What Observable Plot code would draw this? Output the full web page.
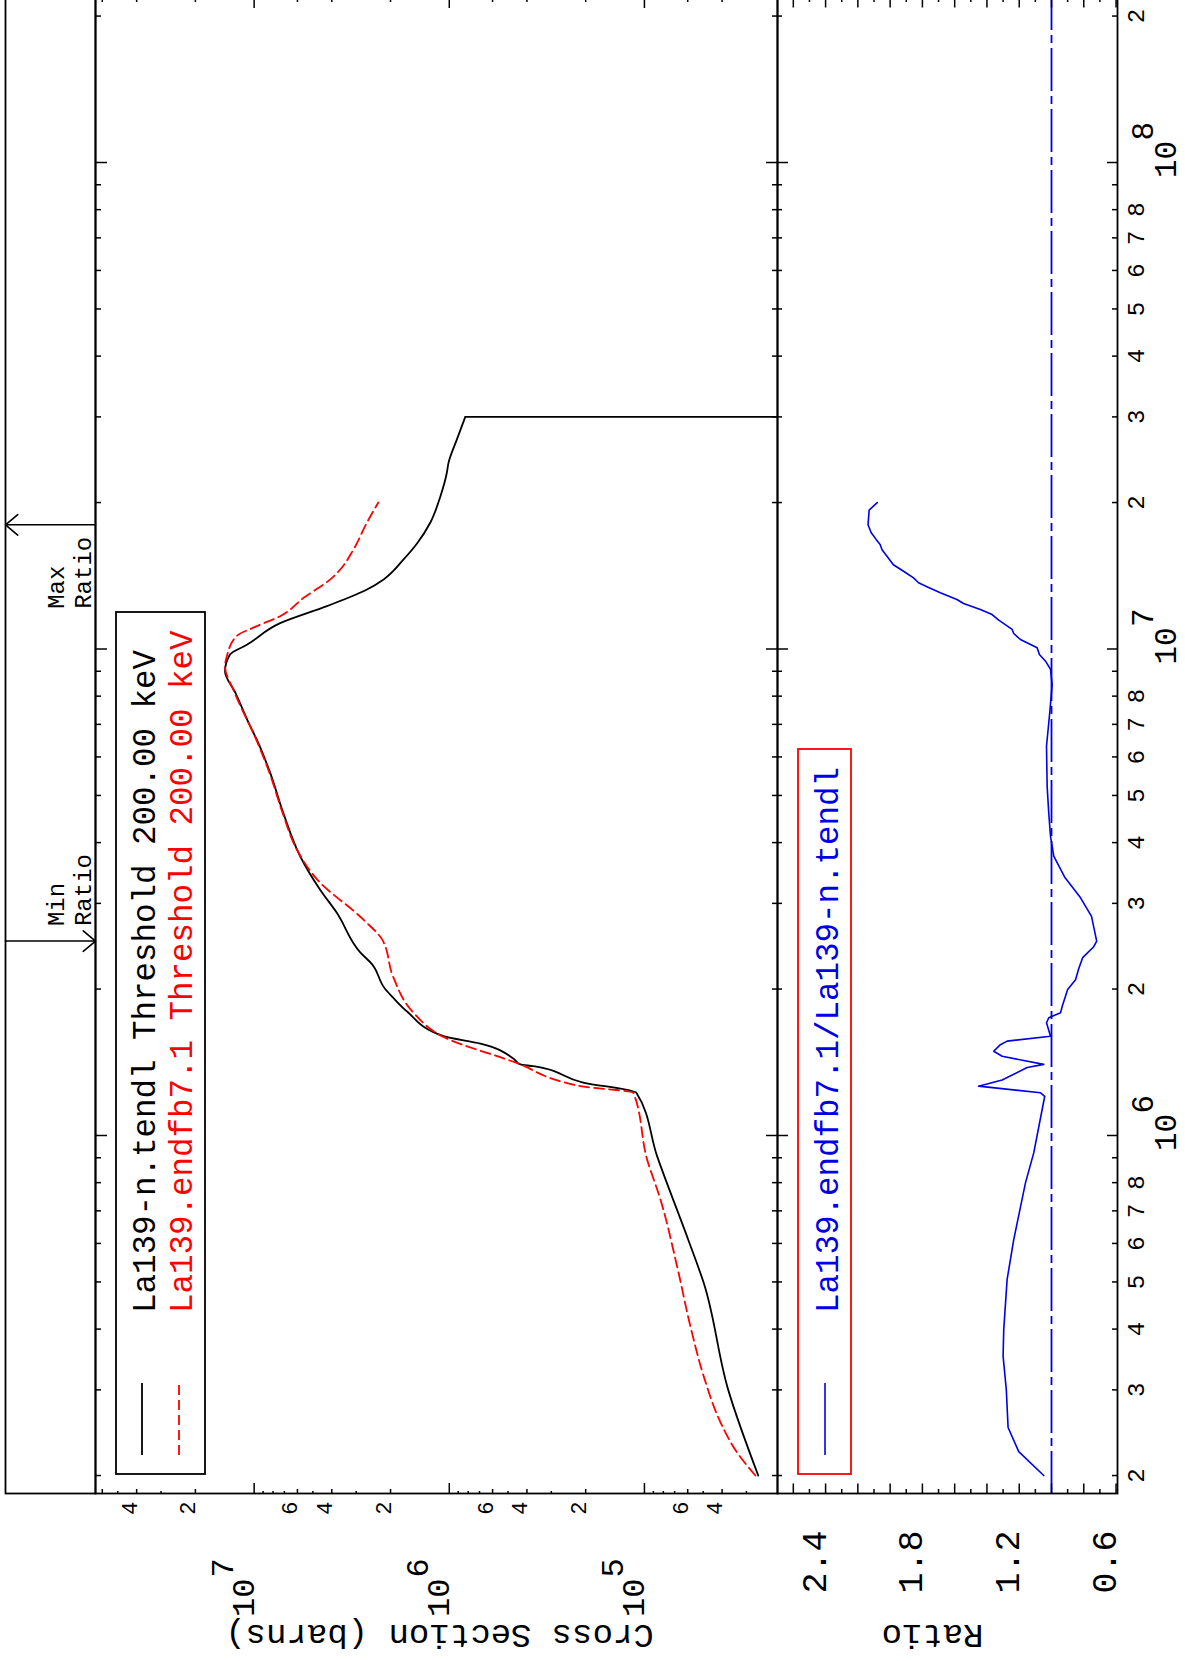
<!DOCTYPE html>
<html>
<head>
<meta charset="utf-8">
<script src="https://cdn.jsdelivr.net/npm/d3@7"></script>
<script src="https://cdn.jsdelivr.net/npm/@observablehq/plot@0.6"></script>
<style>
html, body { margin: 0; padding: 0; background: #fff; overflow: hidden; }
#page { position: relative; width: 1185px; height: 1661px; overflow: hidden; background: #fff; }
#land { position: absolute; left: 0; top: 0; width: 1670px; height: 1185px;
        transform-origin: 0 0; transform: translate(0px, 1661px) rotate(-90deg); }
#land svg { position: absolute; left: 0; overflow: visible !important; max-width: none !important; background: transparent !important; }
</style>
</head>
<body>
<div id="page"><div id="land"></div></div>
<script>
// ---------------- data ----------------
// La139-n.tendl  (neutron energy in eV, cross section in barns)
const tendlE = [2.0e5,3.0e5,4.98e5,6.07e5,9.07e5,1.224e6,1.285e6,1.388e6,1.40e6,1.44e6,
  1.545e6,1.60e6,1.80e6,1.92e6,2.0e6,2.25e6,2.38e6,2.87e6,3.20e6,3.75e6,
  4.61e6,5.57e6,6.51e6,6.94e6,8.14e6,9.0e6,9.74e6,1.02e7,1.13e7,1.225e7,
  1.325e7,1.39e7,1.53e7,1.65e7,1.82e7,2.06e7,2.30e7,2.41e7,2.70e7,3.0e7];
const tendlXS = [2.61e4,3.72e4,4.97e4,5.93e4,8.61e4,1.10e5,2.06e5,3.71e5,4.32e5,4.70e5,
  6.93e5,1.07e6,1.65e6,1.94e6,2.13e6,2.49e6,2.86e6,3.77e6,4.59e6,5.81e6,
  7.10e6,8.28e6,9.69e6,1.048e7,1.25e7,1.41e7,1.33e7,1.09e7,7.36e6,4.24e6,
  2.64e6,2.17e6,1.71e6,1.46e6,1.25e6,1.11e6,1.03e6,1.01e6,9.13e5,8.28e5];

// La139.endfb7.1
const endfE = [2.0e5,2.23e5,2.57e5,3.2e5,4.05e5,5.38e5,7.39e5,8.93e5,1.224e6,1.263e6,
  1.293e6,1.40e6,1.60e6,1.79e6,2.12e6,2.53e6,2.78e6,3.36e6,3.87e6,4.61e6,
  5.57e6,6.51e6,8.14e6,9.22e6,9.66e6,1.063e7,1.114e7,1.168e7,1.274e7,1.39e7,
  1.457e7,1.60e7,1.82e7,2.0e7];
const endfXS = [2.70e4,3.35e4,4.07e4,4.97e4,5.81e4,6.80e4,8.28e4,9.69e4,1.14e5,2.13e5,
  2.70e5,4.32e5,1.09e6,1.53e6,1.94e6,2.21e6,2.76e6,4.76e6,6.04e6,7.15e6,
  8.35e6,9.75e6,1.26e7,1.41e7,1.38e7,1.23e7,9.69e6,7.36e6,5.58e6,4.07e6,
  3.62e6,3.10e6,2.64e6,2.31e6];

// ratio La139.endfb7.1 / La139-n.tendl
const ratioE = [2.0e5,2.24e5,2.51e5,3.0e5,3.52e5,3.99e5,5.06e5,6.11e5,8.0e5,9.21e5,
  1.204e6,1.224e6,1.263e6,1.30e6,1.38e6,1.40e6,1.455e6,1.49e6,1.537e6,1.563e6,
  1.60e6,1.705e6,1.746e6,1.787e6,1.85e6,1.995e6,2.09e6,2.20e6,2.32e6,2.44e6,
  2.51e6,2.82e6,3.08e6,3.40e6,3.75e6,4.12e6,4.60e6,5.22e6,6.31e6,7.39e6,
  8.45e6,9.08e6,9.44e6,9.74e6,1.006e7,1.046e7,1.076e7,1.097e7,1.146e7,1.177e7,
  1.205e7,1.24e7,1.264e7,1.305e7,1.343e7,1.368e7,1.40e7,1.445e7,1.49e7,1.60e7,
  1.64e7,1.68e7,1.736e7,1.80e7,1.93e7,2.0e7];
const ratioVal = [1.048,1.203,1.269,1.28,1.30,1.296,1.275,1.234,1.161,1.11,
  1.042,1.068,1.452,1.306,1.151,1.048,1.306,1.358,1.317,1.275,
  1.006,1.031,1.017,0.944,0.932,0.90,0.851,0.832,0.807,0.74,
  0.72,0.752,0.82,0.919,0.986,1.006,1.017,1.027,1.031,1.011,
  0.996,1.006,1.037,1.075,1.089,1.193,1.234,1.244,1.327,1.368,
  1.441,1.545,1.586,1.689,1.772,1.824,1.855,1.917,1.98,2.05,
  2.062,2.087,2.118,2.137,2.13,2.08];

// ---------------- axes: domains, ticks, labels ----------------
const energyDomain = [1.837e5, 2.194e8];
const xsDomain = [2.08e4, 6.5e7];
const ratioDomain = [0.591, 2.698];

const energyMajorTicks = [1e6, 1e7, 1e8];
const energyMinorTicks = [2e5,3e5,4e5,5e5,6e5,7e5,8e5,9e5,
  2e6,3e6,4e6,5e6,6e6,7e6,8e6,9e6, 2e7,3e7,4e7,5e7,6e7,7e7,8e7,9e7, 2e8];
const energyMinorLabels = ["2","3","4","5","6","7","8"];
const energyMinorLabelDecades = [1e5, 1e6, 1e7];
const energyExtraLabels = [{v: 2e8, t: "2"}];
const energyMajorLabels = [{v: 1e6, exp: "6"}, {v: 1e7, exp: "7"}, {v: 1e8, exp: "8"}];

const xsMajorTicks = [1e5, 1e6, 1e7];
const xsMidTicks = [4e4,6e4,2e5,4e5,6e5,2e6,4e6,6e6,2e7,4e7,6e7];
const xsSmallTicks = [3e4,5e4,7e4,8e4,9e4,3e5,5e5,7e5,8e5,9e5,3e6,5e6,7e6,8e6,9e6,3e7,5e7];
const xsMinorLabels = [{v:4e4,t:"4"},{v:6e4,t:"6"},{v:2e5,t:"2"},{v:4e5,t:"4"},{v:6e5,t:"6"},
  {v:2e6,t:"2"},{v:4e6,t:"4"},{v:6e6,t:"6"},{v:2e7,t:"2"},{v:4e7,t:"4"}];
const xsMajorLabels = [{v: 1e5, exp: "5"}, {v: 1e6, exp: "6"}, {v: 1e7, exp: "7"}];

const ratioMajorTicks = [0.6,0.8,1.0,1.2,1.4,1.6,1.8,2.0,2.2,2.4,2.6];
const ratioMinorTicks = [0.7,0.9,1.1,1.3,1.5,1.7,1.9,2.1,2.3,2.5];
const ratioLabels = [{v:0.6,t:"0.6"},{v:1.2,t:"1.2"},{v:1.8,t:"1.8"},{v:2.4,t:"2.4"}];

const legendTop = ["La139-n.tendl Threshold 200.00 keV", "La139.endfb7.1 Threshold 200.00 keV"];
const legendRatio = "La139.endfb7.1/La139-n.tendl";
const titleXS = "Cross Section (barns)";
const titleRatio = "Ratio";

// ---------------- derived tables ----------------
const tendl = tendlE.map((E, i) => ({E, xs: tendlXS[i]}));
const endf = endfE.map((E, i) => ({E, xs: endfXS[i]}));
const ratio = ratioE.map((E, i) => ({E, r: ratioVal[i]}));
const tendlLast = tendl[tendl.length - 1];
const maxPt = ratio.reduce((a, b) => (b.r > a.r ? b : a));
const minPt = ratio.reduce((a, b) => (b.r < a.r ? b : a));
const eMinorLabelRows = energyMinorLabelDecades.flatMap(d => energyMinorLabels.map(t => ({v: d * (+t), t})))
  .concat(energyExtraLabels);

// ---------------- layout (landscape frame, rotated afterwards) ----------------
const W = 1670, ML = 167, MR = 6, PW = W - ML - MR;
const FONT = "'Liberation Mono', 'DejaVu Sans Mono', monospace";
const BLUE = "#0000e6", RED = "#ff0000";
const TW = 1.5;

function ticksX(values, len, side, ph) {
  const o = {x: d => d, stroke: "#000", strokeWidth: TW};
  o[side === "top" ? "insetBottom" : "insetTop"] = ph - len;
  return Plot.ruleX(values, o);
}
function ticksY(values, len, side) {
  const o = {y: d => d, stroke: "#000", strokeWidth: TW};
  o[side === "left" ? "insetRight" : "insetLeft"] = PW - len;
  return Plot.ruleY(values, o);
}
const baseStyle = {fontFamily: FONT, fontSize: "24px", background: "transparent", overflow: "visible"};
const land = document.getElementById("land");
function place(svg, top) {
  svg.style.position = "absolute";
  svg.style.top = top + "px";
  svg.style.left = "0px";
  svg.style.maxWidth = "none";
  land.appendChild(svg);
}
function legendText(g, x, y, color, str) {
  g.append("text").attr("x", x).attr("y", y).attr("font-size", 32.5)
    .attr("text-anchor", "start").attr("font-family", FONT).attr("fill", color).text(str);
}

// ---- top panel: cross sections ----
const topH = 777, topMT = 95, topPH = topH - topMT;
const topSvg = Plot.plot({
  width: W, height: topH, marginTop: topMT, marginBottom: 0, marginLeft: ML, marginRight: MR,
  x: {type: "log", domain: energyDomain, axis: null},
  y: {type: "log", domain: xsDomain, axis: null},
  style: baseStyle,
  marks: [
    Plot.line(tendl, {x: "E", y: "xs", stroke: "#000", strokeWidth: 1.8, curve: "monotone-x", clip: true}),
    Plot.ruleX([tendlLast], {x: "E", y1: "xs", y2: () => xsDomain[0], stroke: "#000", strokeWidth: 1.8}),
    Plot.line(endf, {x: "E", y: "xs", stroke: RED, strokeWidth: 1.8, strokeDasharray: "10,5", curve: "monotone-x", clip: true}),
    Plot.frame({stroke: "#000", strokeWidth: 1.8}),
    ticksX(energyMajorTicks, 12, "top", topPH),
    ticksX(energyMinorTicks, 6, "top", topPH),
    ticksX(energyMajorTicks, 11, "bottom", topPH),
    ticksX(energyMinorTicks, 5, "bottom", topPH),
    ticksY(xsMajorTicks, 11, "left"),
    ticksY(xsMidTicks, 5, "left"),
    ticksY(xsSmallTicks, 3, "left"),
    ticksY(xsMajorTicks, 11, "right"),
    ticksY(xsMidTicks, 5, "right"),
    ticksY(xsSmallTicks, 3, "right"),
    Plot.text(xsMinorLabels, {y: "v", text: "t", frameAnchor: "left", dx: -8, textAnchor: "end",
      lineAnchor: "bottom", fontSize: 22, fontFamily: FONT}),
    Plot.text(xsMajorLabels, {y: "v", text: () => "10", frameAnchor: "left", dx: -85, textAnchor: "end",
      lineAnchor: "bottom", fontSize: 32, fontFamily: FONT}),
    Plot.text(xsMajorLabels, {y: "v", text: "exp", frameAnchor: "left", dx: -84, dy: -21, textAnchor: "start",
      lineAnchor: "bottom", fontSize: 32, fontFamily: FONT}),
    Plot.text([titleXS], {text: d => d, frameAnchor: "left", dx: -142, dy: 3, rotate: -90,
      textAnchor: "middle", lineAnchor: "middle", fontSize: 34, fontFamily: FONT})
  ]
});
place(topSvg, 0);
{
  const g = d3.select(topSvg).append("g");
  g.append("rect").attr("x", 187).attr("y", 116).attr("width", 862).attr("height", 89)
    .attr("fill", "none").attr("stroke", "#000").attr("stroke-width", 1.8);
  g.append("line").attr("x1", 206).attr("x2", 278).attr("y1", 142).attr("y2", 142)
    .attr("stroke", "#000").attr("stroke-width", 1.8);
  g.append("line").attr("x1", 206).attr("x2", 278).attr("y1", 179).attr("y2", 179)
    .attr("stroke", RED).attr("stroke-width", 1.8).attr("stroke-dasharray", "10,5");
  legendText(g, 348, 155, "#000", legendTop[0]);
  legendText(g, 348, 192, RED, legendTop[1]);
}

// ---- strip with min / max ratio markers ----
const stripSvg = Plot.plot({
  width: W, height: 95, marginTop: 5, marginBottom: 0, marginLeft: ML, marginRight: MR,
  x: {type: "log", domain: energyDomain, axis: null},
  y: {domain: [0, 1], axis: null},
  style: baseStyle,
  marks: [
    Plot.frame({stroke: "#000", strokeWidth: 1.8}),
    Plot.arrow([maxPt], {x: "E", y1: 0, y2: 1, stroke: "#000", strokeWidth: 1.6, headAngle: 80, headLength: 15}),
    Plot.arrow([minPt], {x: "E", y1: 1, y2: 0, stroke: "#000", strokeWidth: 1.6, headAngle: 80, headLength: 15}),
    Plot.text([maxPt], {x: "E", frameAnchor: "bottom", text: () => "Max\nRatio", textAnchor: "start",
      lineAnchor: "bottom", dx: -84, dy: -5, lineHeight: 1.125, fontSize: 24, fontFamily: FONT}),
    Plot.text([minPt], {x: "E", frameAnchor: "bottom", text: () => "Min\nRatio", textAnchor: "start",
      lineAnchor: "bottom", dx: 15, dy: -5, lineHeight: 1.125, fontSize: 24, fontFamily: FONT})
  ]
});
place(stripSvg, 0);

// ---- ratio panel ----
const rTop = 777, rH = 1185 - rTop, rMB = 68, rPH = rH - rMB;
const ratioSvg = Plot.plot({
  width: W, height: rH, marginTop: 0, marginBottom: rMB, marginLeft: ML, marginRight: MR,
  x: {type: "log", domain: energyDomain, axis: null},
  y: {domain: ratioDomain, axis: null},
  style: baseStyle,
  marks: [
    Plot.ruleY([1], {stroke: BLUE, strokeWidth: 1.8, strokeDasharray: "43,5,8,5"}),
    Plot.line(ratio, {x: "E", y: "r", stroke: BLUE, strokeWidth: 1.6, clip: true}),
    Plot.frame({stroke: "#000", strokeWidth: 1.8}),
    ticksX(energyMajorTicks, 11, "top", rPH),
    ticksX(energyMinorTicks, 5, "top", rPH),
    ticksX(energyMajorTicks, 10, "bottom", rPH),
    ticksX(energyMinorTicks, 5, "bottom", rPH),
    ticksY(ratioMajorTicks, 10.5, "left"),
    ticksY(ratioMinorTicks, 5, "left"),
    ticksY(ratioMajorTicks, 10.5, "right"),
    ticksY(ratioMinorTicks, 5, "right"),
    Plot.text(ratioLabels, {y: "v", text: "t", frameAnchor: "left", dx: -37, textAnchor: "end",
      lineAnchor: "bottom", fontSize: 35, fontFamily: FONT}),
    Plot.text(eMinorLabelRows, {x: "v", text: "t", frameAnchor: "bottom", dy: 26, textAnchor: "middle",
      lineAnchor: "bottom", fontSize: 24, fontFamily: FONT}),
    Plot.text(energyMajorLabels, {x: "v", text: () => "10", frameAnchor: "bottom", dx: 3, dy: 58,
      textAnchor: "middle", lineAnchor: "bottom", fontSize: 31, fontFamily: FONT}),
    Plot.text(energyMajorLabels, {x: "v", text: "exp", frameAnchor: "bottom", dx: 22, dy: 35,
      textAnchor: "start", lineAnchor: "bottom", fontSize: 31, fontFamily: FONT}),
    Plot.text([titleRatio], {text: d => d, frameAnchor: "left", dx: -142, dy: -15, rotate: -90,
      textAnchor: "middle", lineAnchor: "middle", fontSize: 34, fontFamily: FONT})
  ]
});
place(ratioSvg, rTop);
{
  const g = d3.select(ratioSvg).append("g");
  g.append("rect").attr("x", 187).attr("y", 21).attr("width", 725).attr("height", 53)
    .attr("fill", "none").attr("stroke", RED).attr("stroke-width", 1.8);
  g.append("line").attr("x1", 206).attr("x2", 278).attr("y1", 48).attr("y2", 48)
    .attr("stroke", BLUE).attr("stroke-width", 1.6);
  legendText(g, 348, 61, BLUE, legendRatio);
}
</script>
</body>
</html>
